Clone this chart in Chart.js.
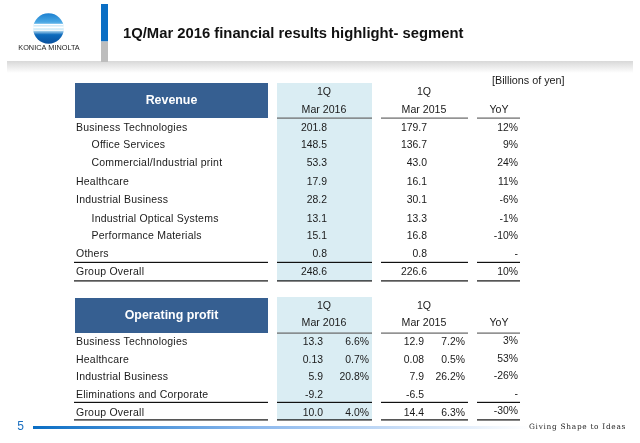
<!DOCTYPE html>
<html><head><meta charset="utf-8">
<style>html,body{margin:0;padding:0;background:#fff}canvas{display:block}</style>
<script src="https://cdn.jsdelivr.net/npm/chart.js@4"></script></head>
<body><canvas id="c" width="640" height="443"></canvas>
<script>
// ---------- data ----------
const revenueRows = ["Business Technologies","Office Services","Commercial/Industrial print","Healthcare","Industrial Business","Industrial Optical Systems","Performance Materials","Others","Group Overall"];
const revenueIndent = [0,1,1,0,0,1,1,0,0];
const revenue2016 = [201.8,148.5,53.3,17.9,28.2,13.1,15.1,0.8,248.6];
const revenue2015 = [179.7,136.7,43.0,16.1,30.1,13.3,16.8,0.8,226.6];
const revenueYoY = ["12%","9%","24%","11%","-6%","-1%","-10%","-","10%"];
const profitRows = ["Business Technologies","Healthcare","Industrial Business","Eliminations and Corporate","Group Overall"];
const profit2016 = ["13.3","0.13","5.9","-9.2","10.0"];
const margin2016 = ["6.6%","0.7%","20.8%","","4.0%"];
const profit2015 = ["12.9","0.08","7.9","-6.5","14.4"];
const margin2015 = ["7.2%","0.5%","26.2%","","6.3%"];
const profitYoY = ["3%","53%","-26%","-","-30%"];
const title = "1Q/Mar 2016 financial results highlight- segment";
const unit = "[Billions of yen]";
const tagline = "Giving Shape to Ideas";
const brand = "KONICA MINOLTA";
const pageNo = "5";
// ---------- layout ----------
const revY = [128.5,145.5,163,182.5,200.5,219,236.5,254.5,272.5];
const proY = [342.5,360.5,377.5,395.5,413];
const FONT = '"Liberation Sans", Arial, sans-serif';
const INK = "#1a1a1a";
function col(label, texts, x, ys, dy){
  return {label, data: texts.map((t,i)=>({x, y: ys[i]+(dy||0), t})), pointRadius:0, showLine:false};
}
const fmt = a => a.map(v=>v.toFixed(1));
const datasets = [
  col("Revenue Mar 2016", fmt(revenue2016), 327, revY),
  col("Revenue Mar 2015", fmt(revenue2015), 427, revY),
  col("Revenue YoY", revenueYoY, 518, revY),
  col("Profit Mar 2016", profit2016, 323, proY),
  col("Margin Mar 2016", margin2016, 369, proY),
  col("Profit Mar 2015", profit2015, 424, proY),
  col("Margin Mar 2015", margin2015, 465, proY),
  col("Profit YoY", profitYoY, 518, proY, -1.5),
];
const tablePlugin = {
  id:"table",
  beforeDatasetsDraw(chart){
    const g = chart.ctx, X = v=>chart.scales.x.getPixelForValue(v), Y = v=>chart.scales.y.getPixelForValue(v);
    const rect=(x0,y0,x1,y1,c)=>{g.fillStyle=c;g.fillRect(X(x0),Y(y0),X(x1)-X(x0),Y(y1)-Y(y0));};
    const text=(s,x,y,al,f,c,ls)=>{g.font=f;g.fillStyle=c||INK;g.textAlign=al||"left";g.textBaseline="middle";g.letterSpacing=ls||"0px";g.fillText(s,X(x),Y(y));g.letterSpacing="0px";};
    // header band
    let gr=g.createLinearGradient(0,Y(61),0,Y(73));
    gr.addColorStop(0,"#d8d8d8");gr.addColorStop(1,"#ffffff");
    g.fillStyle=gr;g.fillRect(X(7),Y(61),X(626)-X(0),Y(12));
    rect(101,4,108,41.5,"#0a6ec4");
    rect(101,41.5,108,62,"#bdbdbd");
    // logo
    g.save();g.beginPath();g.arc(X(48.5),Y(28.5),15.3,0,Math.PI*2);g.clip();
    gr=g.createLinearGradient(0,Y(13),0,Y(44));
    gr.addColorStop(0,"#1b7fd0");gr.addColorStop(.3,"#4aa8e4");gr.addColorStop(.42,"#e8f6fc");gr.addColorStop(.55,"#d0ecf8");gr.addColorStop(.7,"#0d6bbd");gr.addColorStop(1,"#0a4f9c");
    g.fillStyle=gr;g.fillRect(X(33),Y(13),31,32);
    rect(33,24,64,25,"#ffffff");rect(33,27,64,28,"#ffffff");rect(33,30,64,30.7,"#ffffff");
    g.restore();
    text(brand,49,48,"center","7.3px "+FONT,"#222");
    text(title,123,33.5,"left","bold 14.8px "+FONT,"#111");
    text(unit,492,81.5,"left","10.8px "+FONT);
    // tables
    [[83,83,118,281,"Revenue",revY,revenueRows,revenueIndent,262.5,92,110.5],[297,298,333,420,"Operating profit",proY,profitRows,profitRows.map(()=>0),402.5,306,323.5]].forEach(t=>{
      const [cTop,top,mid,bot,name,ys,rows,ind,ln,h1,h2]=t;
      rect(75,top,268,mid,"#365f91");
      text(name,171.5,(top+mid)/2,"center","bold 12.4px "+FONT,"#fff");
      rect(277,cTop,372,bot,"#daedf3");
      [[277,372],[381,468],[477,520]].forEach(c=>{
        rect(c[0],mid-.5,c[1],mid+.7,"#666");
        rect(c[0],ln-.7,c[1],ln+.5,"#111");
        rect(c[0],bot-.7,c[1],bot+.5,"#111");
      });
      rect(74,ln-.7,268,ln+.5,"#111");
      rect(74,bot-.7,268,bot+.5,"#111");
      const f="10.6px "+FONT, fl="10.5px "+FONT;
      text("1Q",324,h1,"center",f);text("Mar 2016",324,h2,"center",f);
      text("1Q",424,h1,"center",f);text("Mar 2015",424,h2,"center",f);
      text("YoY",499,h2,"center",f);
      rows.forEach((r,i)=>text(r,ind[i]?91.5:76,ys[i],"left",fl,INK,"0.22px"));
    });
    // footer
    text(pageNo,20.5,427,"center","12px "+FONT,"#1a6fc0");
    gr=g.createLinearGradient(X(33),0,X(530),0);
    gr.addColorStop(0,"#0a6ec4");gr.addColorStop(.45,"#8db9ee");gr.addColorStop(1,"#ffffff");
    g.fillStyle=gr;g.fillRect(X(33),Y(426),497,3);
    text(tagline,529,427.5,"left","7.4px 'DejaVu Serif', serif","#222","0.7px");
  },
  afterDatasetsDraw(chart){
    const g=chart.ctx;
    chart.data.datasets.forEach((d,i)=>{
      chart.getDatasetMeta(i).data.forEach((el,j)=>{
        g.font="10.4px "+FONT;g.fillStyle=INK;g.textAlign="right";g.textBaseline="middle";
        g.fillText(d.data[j].t,el.x,el.y);
      });
    });
  }
};
new Chart(document.getElementById("c"),{
  type:"scatter",
  data:{datasets},
  options:{
    responsive:false,animation:false,devicePixelRatio:1,
    layout:{padding:0},
    plugins:{legend:{display:false},tooltip:{enabled:false},title:{display:false}},
    scales:{
      x:{type:"linear",min:0,max:640,display:false},
      y:{type:"linear",min:0,max:443,reverse:true,display:false}
    }
  },
  plugins:[tablePlugin]
});
</script></body></html>
